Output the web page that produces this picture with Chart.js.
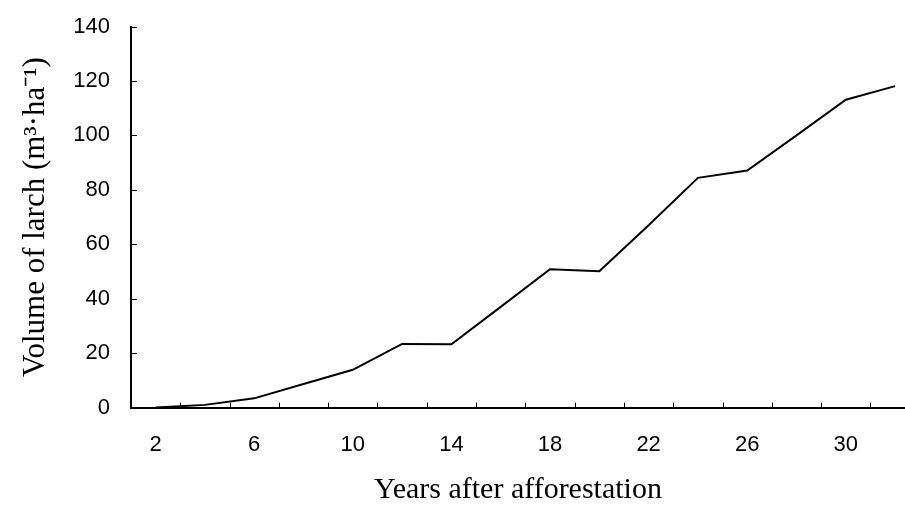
<!DOCTYPE html>
<html>
<head>
<meta charset="utf-8">
<title>Volume of larch</title>
<script src="https://cdn.jsdelivr.net/npm/chart.js@4.4.0/dist/chart.umd.min.js"></script>
<style>
  body { margin: 0; background: #fff; }
  #wrap { width: 905px; height: 510px; }
</style>
</head>
<body>
<div id="wrap"><canvas id="graphCanvasLarch"></canvas></div>
<script>
// data
var years = [2, 4, 6, 8, 10, 12, 14, 16, 18, 20, 22, 24, 26, 28, 30, 32];
var volume = [0, 1, 3.4, 8.7, 13.9, 23.4, 23.3, 37, 50.8, 50.1, 67, 84.4, 87.1, 100, 113.1, 118.1];
var xLabelYears = [2, 6, 10, 14, 18, 22, 26, 30];
var xMarkYears = [3, 5, 7, 9, 11, 13, 15, 17, 19, 21, 23, 25, 27, 29, 31];

var sansFamily = 'Liberation Sans, Arial, sans-serif';
var serifFamily = 'Liberation Serif, Times New Roman, serif';

// small tick marks drawn inside the plot, like the original
var innerTicks = {
    id: 'innerTicks',
    afterDatasetsDraw: function (chart) {
        var ctx = chart.ctx;
        var area = chart.chartArea;
        var xs = chart.scales.x;
        var ys = chart.scales.y;
        ctx.save();
        ctx.strokeStyle = '#000';
        ctx.lineWidth = 1;
        ctx.beginPath();
        ys.ticks.forEach(function (t) {
            var py = Math.round(ys.getPixelForValue(t.value)) + 0.5;
            ctx.moveTo(area.left, py);
            ctx.lineTo(area.left + 6, py);
        });
        xMarkYears.forEach(function (yr) {
            var px = Math.round(xs.getPixelForValue(yr)) + 0.5;
            ctx.moveTo(px, area.bottom);
            ctx.lineTo(px, area.bottom - 5);
        });
        ctx.stroke();
        ctx.restore();
    }
};

var points = [];
for (var i in years) {
    points.push({ x: years[i], y: volume[i] });
}

var chartdata = {
    datasets: [{
        label: 'Volume',
        data: points,
        borderColor: '#000',
        borderWidth: 2,
        pointRadius: 0,
        tension: 0,
        fill: false
    }]
};

var graphTarget = document.getElementById('graphCanvasLarch');

var lineGraph = new Chart(graphTarget, {
    type: 'line',
    data: chartdata,
    plugins: [innerTicks],
    options: {
        responsive: true,
        maintainAspectRatio: false,
        animation: false,
        layout: { padding: { top: 26, right: 0, bottom: 0, left: 0 } },
        plugins: {
            legend: { display: false },
            tooltip: { enabled: false }
        },
        scales: {
            x: {
                type: 'linear',
                min: 1,
                max: 32.4,
                afterBuildTicks: function (axis) {
                    axis.ticks = xLabelYears.map(function (v) { return { value: v }; });
                },
                grid: { display: false, drawTicks: false },
                border: { display: true, color: '#000', width: 2 },
                ticks: { color: '#000', font: { family: sansFamily, size: 22 }, padding: 24, maxRotation: 0, autoSkip: false },
                title: {
                    display: true,
                    text: 'Years after afforestation',
                    color: '#000',
                    font: { family: serifFamily, size: 30 },
                    padding: { top: -10, bottom: 2 }
                }
            },
            y: {
                min: 0,
                max: 140,
                ticks: { stepSize: 20, color: '#000', font: { family: sansFamily, size: 22, lineHeight: 0.5 }, padding: 21 },
                grid: { display: false, drawTicks: false },
                border: { display: true, color: '#000', width: 2 },
                title: {
                    display: true,
                    text: 'Volume of larch (m³·ha⁻¹)',
                    color: '#000',
                    font: { family: serifFamily, size: 31 },
                    padding: { top: 17, bottom: -2 }
                }
            }
        }
    }
});
</script>
</body>
</html>
